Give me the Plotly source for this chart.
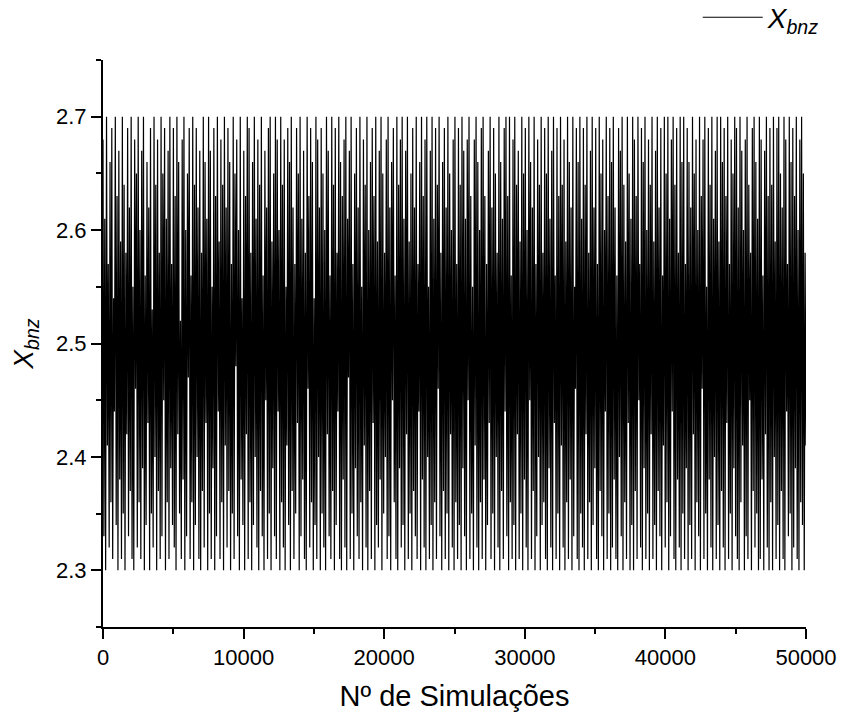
import plotly.graph_objects as go

n_total = 50000
x_bnz_values = [
    2.68,2.33,2.61,2.30,2.70,2.41,2.57,2.32,2.66,2.36,2.69,2.31,2.54,2.44,2.70,2.34,2.63,2.30,2.67,2.38,
    2.59,2.31,2.70,2.35,2.64,2.30,2.58,2.42,2.69,2.33,2.62,2.37,2.70,2.31,2.55,2.30,2.68,2.46,2.65,2.32,
    2.70,2.36,2.60,2.31,2.67,2.39,2.70,2.30,2.56,2.34,2.66,2.43,2.62,2.30,2.69,2.35,2.53,2.32,2.70,2.40,
    2.64,2.30,2.68,2.37,2.58,2.31,2.70,2.33,2.65,2.45,2.69,2.30,2.61,2.36,2.67,2.31,2.70,2.39,2.57,2.34,
    2.69,2.32,2.63,2.30,2.70,2.42,2.66,2.35,2.52,2.31,2.68,2.38,2.70,2.30,2.60,2.33,2.65,2.47,2.69,2.31,
    2.56,2.36,2.70,2.30,2.64,2.34,2.69,2.40,2.62,2.31,2.67,2.30,2.58,2.37,2.70,2.32,2.66,2.43,2.61,2.30,
    2.70,2.35,2.67,2.31,2.55,2.39,2.69,2.30,2.63,2.33,2.70,2.44,2.59,2.31,2.68,2.36,2.64,2.30,2.70,2.41,
    2.62,2.32,2.69,2.37,2.66,2.30,2.57,2.35,2.70,2.31,2.65,2.48,2.68,2.33,2.60,2.30,2.70,2.38,2.54,2.34,
    2.67,2.30,2.63,2.42,2.70,2.31,2.69,2.36,2.58,2.30,2.66,2.34,2.70,2.40,2.61,2.32,2.68,2.30,2.64,2.37,
    2.70,2.33,2.56,2.30,2.67,2.45,2.62,2.31,2.69,2.35,2.70,2.30,2.59,2.39,2.65,2.33,2.70,2.31,2.68,2.44,
    2.60,2.30,2.70,2.36,2.64,2.32,2.68,2.30,2.55,2.41,2.69,2.34,2.66,2.30,2.70,2.37,2.62,2.31,2.57,2.35,
    2.69,2.43,2.65,2.30,2.70,2.33,2.61,2.38,2.67,2.31,2.58,2.30,2.70,2.46,2.63,2.32,2.69,2.36,2.66,2.30,
    2.54,2.34,2.70,2.31,2.68,2.40,2.62,2.30,2.69,2.35,2.65,2.32,2.60,2.30,2.70,2.42,2.67,2.33,2.56,2.31,
    2.70,2.37,2.64,2.30,2.69,2.34,2.58,2.44,2.70,2.31,2.66,2.30,2.63,2.38,2.68,2.32,2.70,2.30,2.61,2.47,
    2.67,2.31,2.70,2.35,2.57,2.30,2.65,2.39,2.69,2.33,2.62,2.31,2.70,2.36,2.55,2.30,2.68,2.41,2.64,2.32,
    2.70,2.30,2.60,2.37,2.66,2.31,2.69,2.43,2.63,2.30,2.70,2.34,2.59,2.32,2.67,2.38,2.70,2.30,2.65,2.35,
    2.58,2.40,2.68,2.31,2.70,2.33,2.62,2.30,2.66,2.45,2.69,2.36,2.56,2.31,2.70,2.30,2.64,2.39,2.68,2.32,
    2.70,2.34,2.61,2.30,2.67,2.42,2.70,2.31,2.59,2.35,2.65,2.30,2.69,2.37,2.62,2.33,2.70,2.31,2.57,2.44,
    2.66,2.30,2.70,2.38,2.63,2.32,2.68,2.30,2.70,2.40,2.55,2.31,2.67,2.34,2.70,2.30,2.61,2.36,2.69,2.31,
    2.64,2.46,2.70,2.33,2.58,2.30,2.66,2.37,2.69,2.31,2.62,2.35,2.70,2.30,2.65,2.42,2.60,2.32,2.68,2.30,
    2.70,2.36,2.57,2.31,2.69,2.34,2.64,2.30,2.70,2.39,2.67,2.33,2.61,2.30,2.68,2.45,2.70,2.31,2.63,2.35,
    2.55,2.30,2.68,2.41,2.70,2.32,2.66,2.30,2.60,2.36,2.69,2.31,2.70,2.38,2.63,2.30,2.57,2.34,2.67,2.43,
    2.70,2.31,2.62,2.35,2.69,2.30,2.65,2.40,2.58,2.32,2.70,2.30,2.66,2.37,2.61,2.31,2.69,2.44,2.70,2.33,
    2.63,2.30,2.70,2.36,2.56,2.31,2.68,2.34,2.70,2.30,2.64,2.42,2.67,2.31,2.59,2.35,2.70,2.30,2.65,2.38,
    2.69,2.32,2.60,2.30,2.70,2.45,2.66,2.31,2.62,2.37,2.70,2.30,2.57,2.33,2.68,2.40,2.64,2.30,2.70,2.34,
    2.58,2.36,2.69,2.31,2.65,2.30,2.70,2.39,2.61,2.32,2.67,2.30,2.70,2.43,2.56,2.31,2.69,2.35,2.63,2.30,
    2.70,2.41,2.64,2.32,2.68,2.30,2.59,2.36,2.70,2.31,2.66,2.38,2.62,2.30,2.70,2.33,2.55,2.46,2.69,2.31,
    2.66,2.30,2.70,2.35,2.61,2.32,2.69,2.30,2.64,2.42,2.70,2.31,2.58,2.36,2.67,2.30,2.70,2.34,2.62,2.39,
    2.69,2.31,2.57,2.30,2.70,2.37,2.65,2.33,2.68,2.30,2.60,2.44,2.70,2.31,2.63,2.35,2.69,2.30,2.66,2.32,
    2.70,2.38,2.62,2.31,2.56,2.30,2.69,2.40,2.67,2.33,2.70,2.30,2.64,2.36,2.59,2.31,2.70,2.43,2.65,2.30,
    2.61,2.34,2.70,2.30,2.68,2.37,2.63,2.31,2.70,2.45,2.57,2.32,2.69,2.30,2.66,2.39,2.70,2.31,2.60,2.35,
    2.68,2.30,2.64,2.42,2.70,2.31,2.59,2.34,2.67,2.30,2.70,2.37,2.62,2.33,2.69,2.30,2.56,2.41,2.70,2.32,
    2.65,2.36,2.70,2.30,2.61,2.33,2.68,2.44,2.70,2.31,2.64,2.30,2.69,2.38,2.58,2.32,2.70,2.30,2.66,2.35,
    2.70,2.31,2.57,2.39,2.69,2.30,2.66,2.34,2.62,2.31,2.70,2.42,2.65,2.30,2.68,2.36,2.60,2.33,2.70,2.30,
    2.63,2.46,2.68,2.31,2.70,2.35,2.55,2.30,2.69,2.38,2.64,2.32,2.70,2.30,2.61,2.40,2.67,2.31,2.70,2.34,
    2.59,2.30,2.70,2.37,2.66,2.32,2.69,2.30,2.63,2.43,2.70,2.31,2.57,2.35,2.68,2.30,2.65,2.39,2.70,2.33,
    2.69,2.31,2.62,2.30,2.70,2.36,2.67,2.41,2.60,2.30,2.68,2.33,2.70,2.31,2.64,2.45,2.58,2.30,2.69,2.37,
    2.70,2.32,2.66,2.35,2.61,2.30,2.70,2.31,2.68,2.38,2.56,2.30,2.67,2.42,2.70,2.32,2.63,2.30,2.69,2.36,
    2.64,2.30,2.70,2.40,2.59,2.31,2.69,2.34,2.70,2.30,2.65,2.37,2.62,2.31,2.70,2.30,2.68,2.44,2.57,2.33,
    2.70,2.35,2.66,2.30,2.69,2.32,2.63,2.39,2.70,2.31,2.60,2.30,2.68,2.36,2.70,2.34,2.65,2.30,2.58,2.41,
]
step = n_total / (len(x_bnz_values) - 1)
simulations = [i * step for i in range(len(x_bnz_values))]

FONT = "Arial, 'Liberation Sans', sans-serif"

fig = go.Figure()
fig.add_trace(go.Scatter(
    x=simulations, y=x_bnz_values, mode="lines",
    line=dict(color="black", width=1.2, simplify=False),
    name="<i>X<sub>bnz</sub></i>",
))

fig.update_layout(
    width=843, height=715,
    margin=dict(l=103, r=37, t=60, b=88, autoexpand=False),
    paper_bgcolor="white", plot_bgcolor="white",
    font=dict(family=FONT, color="black", size=21),
    showlegend=True,
    legend=dict(x=0.846, y=1.119, xanchor="left", yanchor="top",
                font=dict(size=28, family=FONT), bgcolor="rgba(0,0,0,0)",
                itemwidth=60),
)
fig.update_xaxes(
    range=[0, 50000], showline=True, linecolor="black", linewidth=2,
    ticks="outside", ticklen=10, tickwidth=2, tickcolor="black",
    tick0=0, dtick=10000, tickformat="d", showgrid=False, zeroline=False,
    minor=dict(ticks="outside", ticklen=5, tickwidth=2, dtick=5000, tickcolor="black", showgrid=False),
    tickfont=dict(size=22), title=dict(text="Nº de Simulações", font=dict(size=29), standoff=16),
)
fig.update_yaxes(
    range=[2.25, 2.75], showline=True, linecolor="black", linewidth=2,
    ticks="outside", ticklen=10, tickwidth=2, tickcolor="black",
    tick0=2.3, dtick=0.1, tickformat=".1f", showgrid=False, zeroline=False,
    minor=dict(ticks="outside", ticklen=5, tickwidth=2, dtick=0.05, tickcolor="black", showgrid=False),
    tickfont=dict(size=22), title=dict(text="<i>X<sub>bnz</sub></i>", font=dict(size=28), standoff=14),
)
fig.write_html("out.html")
